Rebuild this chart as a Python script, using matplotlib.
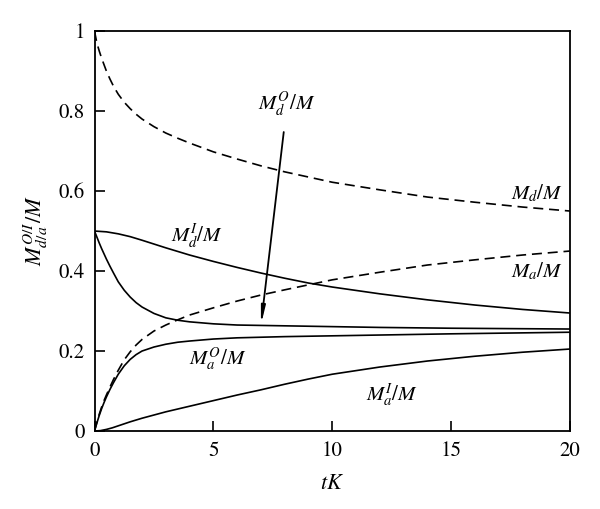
import matplotlib
matplotlib.use("Agg")
import matplotlib.pyplot as plt

plt.rcParams['font.family'] = ['STIXGeneral', 'DejaVu Serif']
plt.rcParams['mathtext.fontset'] = 'stix'

# Data
t_md = [0, 0.05, 0.1, 0.2, 0.3, 0.4, 0.5, 0.65, 0.8, 1, 1.25, 1.5, 1.75, 2, 2.5, 3, 3.5, 4, 5, 6,
        7, 8, 10, 12, 14, 16, 18, 20]
md = [1.0, 0.985, 0.97, 0.95, 0.932, 0.916, 0.9, 0.88, 0.862, 0.842, 0.822, 0.806, 0.792, 0.78,
      0.761, 0.745, 0.732, 0.72, 0.698, 0.68, 0.663, 0.648, 0.622, 0.603, 0.585, 0.572, 0.56, 0.55]

t_ma = [0, 0.1, 0.2, 0.3, 0.4, 0.5, 0.65, 0.8, 1, 1.25, 1.5, 1.75, 2, 2.5, 3, 3.5, 4, 5, 6,
        7, 8, 10, 12, 14, 16, 18, 20]
ma = [0.0, 0.022, 0.042, 0.06, 0.076, 0.09, 0.11, 0.129, 0.152, 0.178, 0.198, 0.215, 0.229,
      0.25, 0.265, 0.278, 0.29, 0.308, 0.325, 0.34, 0.353, 0.378, 0.397, 0.415, 0.428, 0.44, 0.45]

t_mdi = [0, 0.5, 1, 1.5, 2, 3, 4, 5, 6, 7, 8, 9, 10, 12, 14, 16, 18, 20]
mdi = [0.5, 0.498, 0.493, 0.486, 0.477, 0.458, 0.44, 0.424, 0.409, 0.395, 0.382, 0.37, 0.36,
       0.343, 0.328, 0.315, 0.304, 0.295]

t_mdo = [0, 0.1, 0.2, 0.3, 0.4, 0.5, 0.65, 0.8, 1, 1.25, 1.5, 1.75, 2, 2.5, 3, 3.5, 4, 5, 6,
         8, 10, 12, 15, 20]
mdo = [0.5, 0.485, 0.47, 0.456, 0.443, 0.43, 0.412, 0.395, 0.373, 0.352, 0.335, 0.321, 0.31,
       0.294, 0.283, 0.277, 0.273, 0.268, 0.265, 0.263, 0.261, 0.259, 0.257, 0.255]

t_mao = [0, 0.1, 0.2, 0.3, 0.4, 0.5, 0.65, 0.8, 1, 1.25, 1.5, 1.75, 2, 2.5, 3, 3.5, 4, 5, 6,
         8, 10, 12, 15, 20]
mao = [0.0, 0.02, 0.039, 0.056, 0.071, 0.085, 0.104, 0.121, 0.142, 0.163, 0.179, 0.191, 0.2,
       0.21, 0.217, 0.222, 0.225, 0.23, 0.233, 0.236, 0.238, 0.24, 0.243, 0.247]

t_mai = [0, 0.25, 0.5, 0.75, 1, 1.5, 2, 2.5, 3, 4, 5, 6, 7, 8, 9, 10, 12, 14, 16, 18, 20]
mai = [0.0, 0.001, 0.004, 0.008, 0.013, 0.023, 0.032, 0.04, 0.048, 0.062, 0.076, 0.09, 0.103,
       0.117, 0.13, 0.142, 0.16, 0.175, 0.187, 0.197, 0.205]

x_ticks = [0, 5, 10, 15, 20]
y_ticks = [0, 0.2, 0.4, 0.6, 0.8, 1]
y_tick_labels = ['0', '0.2', '0.4', '0.6', '0.8', '1']

fig = plt.figure(figsize=(6.0, 5.09), dpi=100)
ax = fig.add_axes([0.1575, 0.1532, 0.7925, 0.7858])

lw = 1.2
dash = (0, (6, 3.5))
ax.plot(t_md, md, color='black', lw=lw, linestyle=dash)
ax.plot(t_ma, ma, color='black', lw=lw, linestyle=dash)
ax.plot(t_mdi, mdi, color='black', lw=lw)
ax.plot(t_mdo, mdo, color='black', lw=lw)
ax.plot(t_mao, mao, color='black', lw=lw)
ax.plot(t_mai, mai, color='black', lw=lw)

ax.set_xlim(0, 20)
ax.set_ylim(0, 1)
ax.set_xticks(x_ticks)
ax.set_xticklabels([str(v) for v in x_ticks])
ax.set_yticks(y_ticks)
ax.set_yticklabels(y_tick_labels)
ax.tick_params(direction='in', length=7, width=1.2, labelsize=15, pad=7,
               top=False, right=False, colors='black')
for s in ax.spines.values():
    s.set_linewidth(1.3)

fs = 15
ax.text(8.1, 0.815, r'$M_d^O/M$', fontsize=fs, ha='center', va='center')
ax.text(4.3, 0.485, r'$M_d^I/M$', fontsize=fs, ha='center', va='center')
ax.text(18.6, 0.595, r'$M_d/M$', fontsize=fs, ha='center', va='center')
ax.text(18.6, 0.398, r'$M_a/M$', fontsize=fs, ha='center', va='center')
ax.text(5.2, 0.18, r'$M_a^O/M$', fontsize=fs, ha='center', va='center')
ax.text(12.5, 0.09, r'$M_a^I/M$', fontsize=fs, ha='center', va='center')

ax.annotate('', xy=(7.0, 0.265), xytext=(7.96, 0.7475),
            arrowprops=dict(arrowstyle='-|>,head_length=1.0,head_width=0.12',
                            color='black', lw=1.3, shrinkA=0, shrinkB=0))

ax.set_xlabel(r'$tK$', fontsize=16, labelpad=10)
ax.set_ylabel(r'$M_{d/a}^{O/I}/M$', fontsize=16, labelpad=6)

fig.savefig('out.png', dpi=100)
